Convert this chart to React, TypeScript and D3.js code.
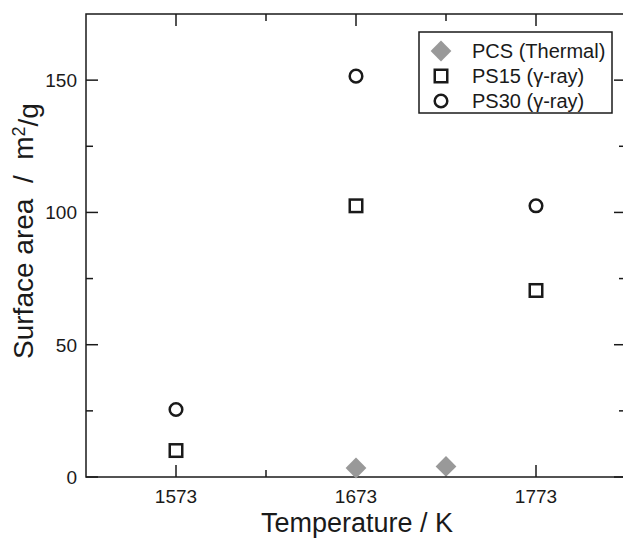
import React, { useRef, useEffect } from "react";
import * as d3 from "d3";

// data
const temps = [1573, 1673, 1773];
const pcsTemps = [1673, 1723];
const pcsArea = [3.4, 4.0];
const ps15Area = [10, 102.5, 70.5];
const ps30Area = [25.5, 151.5, 102.5];

const xMajor = [1573, 1673, 1773];
const xMinor = [1623, 1723];
const yMajor = [0, 50, 100, 150];
const yMinor = [25, 75, 125];

const legendLabels = ["PCS (Thermal)", "PS15 (\u03b3-ray)", "PS30 (\u03b3-ray)"];

const W = 623;
const H = 542;
const FONT = "'Liberation Sans', Arial, Helvetica, sans-serif";

export default function App() {
  const svgRef = useRef<SVGSVGElement>(null);

  useEffect(() => {
    const svg = d3.select(svgRef.current);
    svg.selectAll("*").remove();

    const left = 86, right = 626, top = 14, bottom = 477;
    const x = d3.scaleLinear().domain([1523, 1823]).range([left, right]);
    const y = d3.scaleLinear().domain([0, 175]).range([bottom, top]);

    const g = svg.append("g");
    const ink = "#1a1a1a";

    // frame
    g.append("rect")
      .attr("x", left)
      .attr("y", top)
      .attr("width", right - left)
      .attr("height", bottom - top)
      .attr("fill", "none")
      .attr("stroke", ink)
      .attr("stroke-width", 1.5);

    const major = 12, minor = 7;

    // x ticks (bottom + top, inward)
    const xt = [...xMajor.map((v) => ({ v, l: major })), ...xMinor.map((v) => ({ v, l: minor }))];
    xt.forEach((t) => {
      g.append("line")
        .attr("x1", x(t.v)).attr("x2", x(t.v))
        .attr("y1", bottom).attr("y2", bottom - t.l)
        .attr("stroke", ink).attr("stroke-width", 1.5);
      g.append("line")
        .attr("x1", x(t.v)).attr("x2", x(t.v))
        .attr("y1", top).attr("y2", top + t.l)
        .attr("stroke", ink).attr("stroke-width", 1.5);
    });

    // y ticks (left + right, inward)
    const yt = [...yMajor.map((v) => ({ v, l: major })), ...yMinor.map((v) => ({ v, l: minor }))];
    yt.forEach((t) => {
      g.append("line")
        .attr("x1", left).attr("x2", left + t.l)
        .attr("y1", y(t.v)).attr("y2", y(t.v))
        .attr("stroke", ink).attr("stroke-width", 1.5);
      g.append("line")
        .attr("x1", right).attr("x2", right - t.l)
        .attr("y1", y(t.v)).attr("y2", y(t.v))
        .attr("stroke", ink).attr("stroke-width", 1.5);
    });

    // tick labels
    g.selectAll(".xl")
      .data(xMajor)
      .enter()
      .append("text")
      .attr("x", (d) => x(d))
      .attr("y", bottom + 26)
      .attr("text-anchor", "middle")
      .style("font-family", FONT)
      .style("font-size", "19px")
      .attr("fill", ink)
      .text((d) => d);

    g.selectAll(".yl")
      .data(yMajor)
      .enter()
      .append("text")
      .attr("x", left - 9)
      .attr("y", (d) => y(d))
      .attr("dy", "0.36em")
      .attr("text-anchor", "end")
      .style("font-family", FONT)
      .style("font-size", "19px")
      .attr("fill", ink)
      .text((d) => d);

    // axis titles
    g.append("text")
      .attr("x", 357)
      .attr("y", 532)
      .attr("text-anchor", "middle")
      .style("font-family", FONT)
      .style("font-size", "27px")
      .attr("fill", ink)
      .text("Temperature / K");

    const yTitle = g.append("text")
      .attr("transform", `translate(33, 231) rotate(-90)`)
      .attr("text-anchor", "middle")
      .style("font-family", FONT)
      .style("font-size", "28px")
      .style("white-space", "pre")
      .attr("fill", ink);
    yTitle.append("tspan").text("Surface area  /  m");
    yTitle.append("tspan").attr("dy", "-0.45em").style("font-size", "18px").text("2");
    yTitle.append("tspan").attr("dy", "0.45em").text("/g");

    const diamond = d3.symbol().type(d3.symbolDiamond2).size(275);

    // PCS
    g.selectAll(".pcs")
      .data(pcsTemps.map((t, i) => ({ t, v: pcsArea[i] })))
      .enter()
      .append("path")
      .attr("d", diamond)
      .attr("transform", (d) => `translate(${x(d.t)},${y(d.v)})`)
      .attr("fill", "#999999");

    // PS15 squares
    const sq = 12.5;
    g.selectAll(".ps15")
      .data(temps.map((t, i) => ({ t, v: ps15Area[i] })))
      .enter()
      .append("rect")
      .attr("x", (d) => x(d.t) - sq / 2)
      .attr("y", (d) => y(d.v) - sq / 2)
      .attr("width", sq)
      .attr("height", sq)
      .attr("fill", "none")
      .attr("stroke", ink)
      .attr("stroke-width", 2.5);

    // PS30 circles
    g.selectAll(".ps30")
      .data(temps.map((t, i) => ({ t, v: ps30Area[i] })))
      .enter()
      .append("circle")
      .attr("cx", (d) => x(d.t))
      .attr("cy", (d) => y(d.v))
      .attr("r", 6.3)
      .attr("fill", "none")
      .attr("stroke", ink)
      .attr("stroke-width", 2.5);

    // legend
    const lg = g.append("g").attr("transform", "translate(419, 32)");
    lg.append("rect")
      .attr("width", 193)
      .attr("height", 81)
      .attr("fill", "white")
      .attr("stroke", ink)
      .attr("stroke-width", 1.5);
    const rowY = [19, 44, 69];
    lg.append("path").attr("d", diamond).attr("transform", `translate(22,${rowY[0]})`).attr("fill", "#999999");
    lg.append("rect")
      .attr("x", 22 - sq / 2).attr("y", rowY[1] - sq / 2)
      .attr("width", sq).attr("height", sq)
      .attr("fill", "none").attr("stroke", ink).attr("stroke-width", 2.5);
    lg.append("circle")
      .attr("cx", 22).attr("cy", rowY[2]).attr("r", 6.3)
      .attr("fill", "none").attr("stroke", ink).attr("stroke-width", 2.5);
    legendLabels.forEach((lab, i) => {
      lg.append("text")
        .attr("x", 53)
        .attr("y", rowY[i])
        .attr("dy", "0.36em")
        .style("font-family", FONT)
        .style("font-size", "20px")
        .attr("fill", ink)
        .text(lab);
    });
  }, []);

  return (
    <svg
      ref={svgRef}
      width={W}
      height={H}
      style={{ position: "absolute", left: 0, top: 0, background: "white" }}
    />
  );
}
